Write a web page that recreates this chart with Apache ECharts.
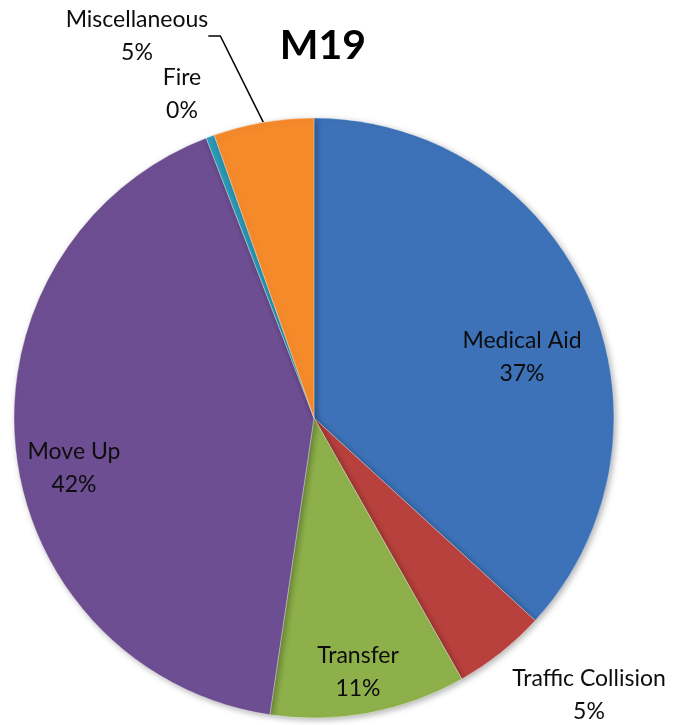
<!DOCTYPE html>
<html>
<head>
<meta charset="utf-8">
<script src="https://cdn.jsdelivr.net/npm/echarts@6/dist/echarts.min.js"></script>
<style>
  html, body { margin: 0; padding: 0; background: #fff; }
  #chart { width: 679px; height: 725px; }
</style>
</head>
<body>
<div id="chart"></div>
<script>
// --- データ ---
const categories = ['Medical Aid', 'Traffic Collision', 'Transfer', 'Move Up', 'Fire', 'Miscellaneous'];
const shares = [36.8, 5.0, 10.55, 41.8, 0.45, 5.4];

// 見た目 (色・ラベル位置)
const colors = ['#3d72b8', '#b8413d', '#8db04a', '#6d4e92', '#2c9ab7', '#f58a2b'];
const insideLabels = [true, false, true, true, false, false];
const labelPos = [[522, 357], [589, 695], [358, 672], [74, 468], [182, 94], [137, 36]];

const chart = echarts.init(document.getElementById('chart'), null, { renderer: 'canvas' });
const total = shares.reduce((a, b) => a + b, 0);

const pieData = categories.map((name, i) => ({
    name: name,
    value: shares[i],
    itemStyle: { color: colors[i] },
    label: { position: insideLabels[i] ? 'inside' : 'outside' },
    labelLine: {
        show: name === 'Miscellaneous',
        length: 20,
        length2: 12,
        lineStyle: { color: '#000', width: 1.5 }
    }
}));

chart.setOption({
    animation: false,
    title: {
        text: 'M19',
        left: 318,
        top: 20,
        textAlign: 'center',
        textStyle: { fontFamily: 'Lato', fontWeight: 'bold', fontSize: 41, color: '#000' }
    },
    series: [{
        type: 'pie',
        center: [314, 418],
        radius: 300,
        startAngle: 90,
        clockwise: true,
        avoidLabelOverlap: false,
        itemStyle: {
            borderColor: 'rgba(255,255,255,0.35)',
            borderWidth: 1,
            shadowBlur: 6,
            shadowOffsetX: 2,
            shadowOffsetY: 2,
            shadowColor: 'rgba(0,0,0,0.3)'
        },
        label: {
            fontFamily: 'Lato',
            fontSize: 23,
            lineHeight: 33,
            color: '#0d0d0d',
            align: 'center',
            formatter: p => p.name + '\n' + Math.round(p.value / total * 100) + '%'
        },
        labelLayout: params => ({
            x: labelPos[params.dataIndex][0],
            y: labelPos[params.dataIndex][1],
            align: 'center',
            verticalAlign: 'middle'
        }),
        emphasis: { disabled: true },
        data: pieData
    }]
});
</script>
</body>
</html>
